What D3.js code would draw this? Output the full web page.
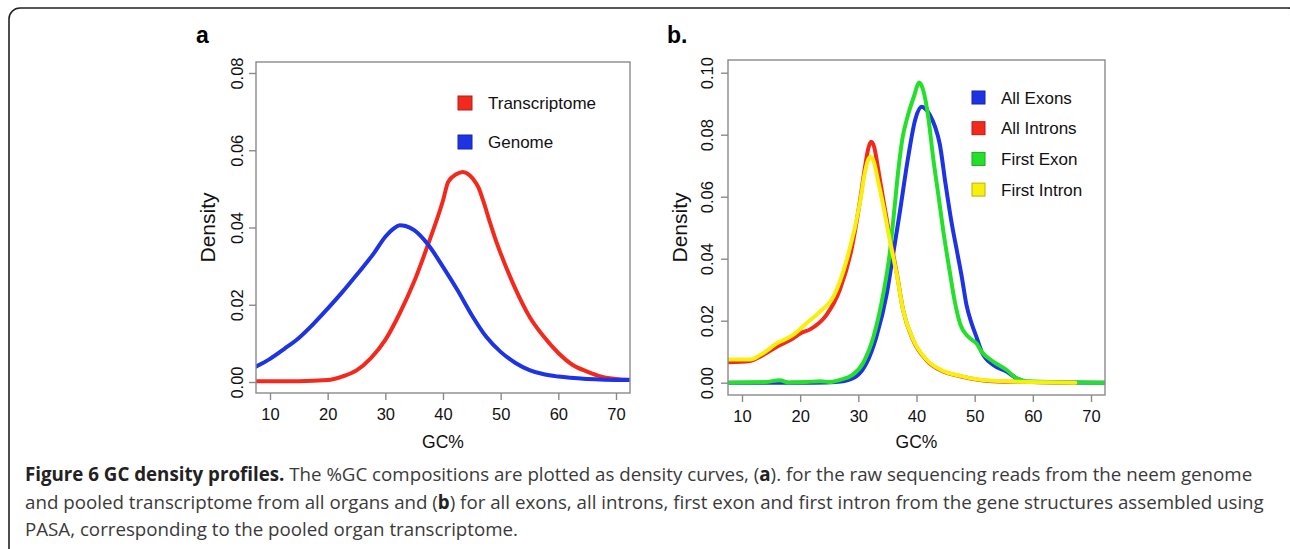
<!DOCTYPE html>
<html>
<head>
<meta charset="utf-8">
<script src="https://cdn.jsdelivr.net/npm/d3@7"></script>
<style>
  html, body { margin: 0; padding: 0; background: #fff; }
  svg { display: block; }
</style>
</head>
<body>
<svg id="fig" width="1290" height="549"></svg>
<script>
// valeurs : [GC%, densité]
var genome = [[7.6,0.0040],[10,0.0060],[12.5,0.0086],[15,0.0114],[17.5,0.0150],[20,0.0190],[22.5,0.0232],[25,0.0277],[28,0.0333],[30,0.0376],[31.5,0.0398],[32.5,0.0406],[33.5,0.0404],[35,0.0393],[37.5,0.0354],[40,0.0298],[42.5,0.0238],[45,0.0173],[47.5,0.0117],[50,0.0078],[52.5,0.0050],[55,0.0031],[57.5,0.0020],[60,0.0014],[65,0.0008],[72.4,0.0005]];
var transcriptome = [[7.6,0.0002],[15,0.0002],[20,0.0005],[22.5,0.0014],[25,0.0030],[27.5,0.0062],[30,0.0109],[32.5,0.0178],[35,0.0260],[37.5,0.0360],[40,0.0470],[40.9,0.0518],[42.3,0.0538],[43.4,0.0544],[44.2,0.0540],[45.2,0.0526],[46.2,0.0502],[47,0.0468],[48,0.0420],[49,0.0374],[50,0.0333],[52.5,0.0243],[55,0.0169],[57.5,0.0117],[60,0.0075],[62.5,0.0044],[65,0.0027],[67.5,0.0014],[70,0.0008],[72.4,0.0006]];

var allExons = [[7.6,0.0000],[20,0.0000],[24.5,0.0001],[27.4,0.0005],[29.7,0.0021],[31.4,0.0063],[33.1,0.0148],[34.9,0.0288],[36,0.0417],[37.1,0.0546],[38.5,0.0720],[39.8,0.0850],[40.9,0.0890],[41.6,0.0882],[42.3,0.0864],[43.2,0.0825],[44,0.0770],[45,0.0640],[46,0.0520],[47,0.0420],[47.8,0.0340],[48.6,0.0250],[49.5,0.0190],[50.3,0.0148],[51.2,0.0100],[53.2,0.0057],[55.5,0.0036],[57.2,0.0014],[58.9,0.0003],[72.4,0.0000]];
var allIntrons = [[7.6,0.0066],[11.4,0.0070],[13.1,0.0084],[16,0.0116],[18.8,0.0143],[20,0.0159],[21.7,0.0172],[24.5,0.0218],[26.8,0.0299],[28.8,0.0428],[30.3,0.0589],[31.1,0.0690],[31.7,0.0755],[32.2,0.0777],[32.7,0.0762],[33.4,0.0690],[34.3,0.0589],[35.4,0.0471],[36.6,0.0354],[37.7,0.0234],[39.4,0.0138],[41.7,0.0073],[44.6,0.0036],[47.5,0.0021],[53.1,0.0005],[67.3,0.0000]];
var firstExon = [[7.6,0.0000],[14,0.0002],[16.5,0.0008],[18,0.0001],[21,0.0002],[23.5,0.0005],[25,0.0002],[27,0.0010],[29,0.0025],[30.8,0.0063],[32.6,0.0148],[34.3,0.0288],[35.4,0.0417],[36.2,0.0560],[36.9,0.0690],[37.6,0.0790],[38.3,0.0847],[39.5,0.0920],[40.5,0.0968],[41.2,0.0940],[42,0.0860],[42.9,0.0720],[43.8,0.0600],[44.6,0.0490],[45.7,0.0360],[46.6,0.0260],[47.5,0.0190],[48.9,0.0148],[50.3,0.0127],[51.2,0.0100],[53.2,0.0068],[55.5,0.0041],[57.2,0.0014],[58.9,0.0005],[72.4,0.0000]];
var firstIntron = [[7.6,0.0075],[11.4,0.0075],[13.1,0.0089],[16,0.0127],[18.8,0.0154],[21.1,0.0192],[23.4,0.0229],[25.7,0.0277],[28,0.0396],[30.3,0.0583],[31.1,0.0675],[31.6,0.0715],[32.1,0.0729],[32.6,0.0716],[33.4,0.0650],[34.3,0.0570],[35.4,0.0460],[36.6,0.0350],[37.7,0.0234],[39.4,0.0140],[41.7,0.0075],[44.6,0.0038],[47.5,0.0022],[53.1,0.0006],[67.3,0.0000]];

var xTicks = [10, 20, 30, 40, 50, 60, 70];
var yTicksA = [0, 0.02, 0.04, 0.06, 0.08];
var yTicksB = [0, 0.02, 0.04, 0.06, 0.08, 0.10];

var captionLines = [
  [["Figure 6 GC density profiles.", true], [" The %GC compositions are plotted as density curves, (", false], ["a", true], ["). for the raw sequencing reads from the neem genome", false]],
  [["and pooled transcriptome from all organs and (", false], ["b", true], [") for all exons, all introns, first exon and first intron from the gene structures assembled using", false]],
  [["PASA, corresponding to the pooled organ transcriptome.", false]]
];

var RED = "#f2291c", BLUE = "#1d33e4", GREEN = "#25e02a", YELLOW = "#f6f00c";

var svg = d3.select("#fig");
var font = "'Liberation Sans', Arial, Helvetica, sans-serif";

// cadre arrondi de la figure
svg.append("rect")
  .attr("x", 9).attr("y", 8)
  .attr("width", 1290).attr("height", 560)
  .attr("rx", 11).attr("ry", 11)
  .attr("fill", "none").attr("stroke", "#222").attr("stroke-width", 1.6);

function panel(p) {
  var g = svg.append("g");
  var x = d3.scaleLinear().domain([10, 70]).range(p.xr);
  var y = d3.scaleLinear().domain(p.yd).range(p.yr);

  g.append("clipPath").attr("id", "clip" + p.id)
    .append("rect")
    .attr("x", p.box[0]).attr("y", p.box[1])
    .attr("width", p.box[2] - p.box[0]).attr("height", p.box[3] - p.box[1]);

  // courbes de densité
  var line = d3.line().x(d => x(d[0])).y(d => y(d[1])).curve(d3.curveMonotoneX);
  p.series.forEach(function(s) {
    g.append("path")
      .datum(s.data)
      .attr("d", line)
      .attr("clip-path", "url(#clip" + p.id + ")")
      .attr("fill", "none")
      .attr("stroke", s.color)
      .attr("stroke-width", 4)
      .attr("stroke-linejoin", "round")
      .attr("stroke-linecap", "round");
  });

  // boîte
  g.append("rect")
    .attr("x", p.box[0]).attr("y", p.box[1])
    .attr("width", p.box[2] - p.box[0]).attr("height", p.box[3] - p.box[1])
    .attr("fill", "none").attr("stroke", "#8a8a8a").attr("stroke-width", 1.4);

  // axe x
  var xAxis = g.append("g")
    .attr("transform", `translate(0, ${p.box[3]})`)
    .call(d3.axisBottom(x).tickValues(xTicks).tickSize(7).tickPadding(8).tickSizeOuter(0));
  xAxis.select(".domain").remove();
  xAxis.selectAll("line").attr("stroke", "#8a8a8a").attr("stroke-width", 1.4);
  xAxis.selectAll("text").attr("font-family", font).attr("font-size", 16.5).attr("fill", "#111");

  // axe y (étiquettes verticales à la R)
  var yAxis = g.append("g")
    .attr("transform", `translate(${p.box[0]}, 0)`)
    .call(d3.axisLeft(y).tickValues(p.yTicks).tickSize(7).tickFormat(d3.format(".2f")).tickSizeOuter(0));
  yAxis.select(".domain").remove();
  yAxis.selectAll("line").attr("stroke", "#8a8a8a").attr("stroke-width", 1.4);
  yAxis.selectAll("text")
    .attr("x", null).attr("dy", null)
    .attr("transform", `translate(${p.ylab - p.box[0]}, 0) rotate(-90)`)
    .attr("text-anchor", "middle")
    .attr("font-family", font).attr("font-size", 16.5).attr("fill", "#111");

  // titres des axes
  g.append("text")
    .attr("transform", `translate(${p.dens}, ${(p.box[1] + p.box[3]) / 2}) rotate(-90)`)
    .attr("text-anchor", "middle")
    .attr("font-family", font).attr("font-size", 21).attr("fill", "#111")
    .text("Density");
  g.append("text")
    .attr("x", (p.box[0] + p.box[2]) / 2).attr("y", 448)
    .attr("text-anchor", "middle")
    .attr("font-family", font).attr("font-size", 17.5).attr("fill", "#111")
    .text("GC%");

  // lettre du panneau
  g.append("text")
    .attr("x", p.letter[0]).attr("y", p.letter[1])
    .attr("font-family", font).attr("font-size", 23).attr("font-weight", "bold")
    .text(p.label);

  // légende
  p.series.forEach(function(s, i) {
    var cy = p.leg[1] + i * p.leg[2];
    g.append("rect")
      .attr("x", p.leg[0]).attr("y", cy - p.leg[3] / 2)
      .attr("width", p.leg[3]).attr("height", p.leg[3])
      .attr("fill", s.color).attr("stroke", d3.color(s.color).darker(0.8)).attr("stroke-width", 1);
    g.append("text")
      .attr("x", p.leg[0] + p.leg[3] + 16).attr("y", cy).attr("dy", "0.36em")
      .attr("font-family", font).attr("font-size", 17).attr("fill", "#111")
      .text(s.name);
  });
}

panel({
  id: "a", label: "a", letter: [196, 43],
  xr: [270, 616], yd: [0, 0.08], yr: [382, 73],
  box: [256, 62, 630, 393], yTicks: yTicksA, ylab: 243, dens: 215,
  leg: [458, 103, 39, 14],
  series: [
    {name: "Transcriptome", color: RED, data: transcriptome},
    {name: "Genome", color: BLUE, data: genome}
  ]
});

panel({
  id: "b", label: "b.", letter: [667, 43],
  xr: [742, 1091], yd: [0, 0.1], yr: [382.7, 72.7],
  box: [728, 60, 1105, 395], yTicks: yTicksB, ylab: 713, dens: 687,
  leg: [972, 97.5, 30.7, 13],
  series: [
    {name: "All Exons", color: BLUE, data: allExons},
    {name: "All Introns", color: RED, data: allIntrons},
    {name: "First Exon", color: GREEN, data: firstExon},
    {name: "First Intron", color: YELLOW, data: firstIntron}
  ]
});

// légende de la figure
var capFont = "'Open Sans', 'Noto Sans', sans-serif";
var capSize = 17;
var capBase = [481, 509, 536];
var caps = captionLines.map(function(parts, i) {
  var t = svg.append("text")
    .attr("x", 25).attr("y", capBase[i])
    .attr("font-family", capFont).attr("font-size", capSize).attr("fill", "#3a3a3a");
  parts.forEach(function(pt) {
    t.append("tspan")
      .attr("font-weight", pt[1] ? "bold" : null)
      .attr("fill", pt[1] ? "#222" : null)
      .text(pt[0]);
  });
  return t;
});
// ajustement de la taille pour que la première ligne finisse au bon endroit
var len = caps[0].node().getComputedTextLength();
var fit = capSize * 1228 / len;
caps.forEach(t => t.attr("font-size", fit));
</script>
</body>
</html>
